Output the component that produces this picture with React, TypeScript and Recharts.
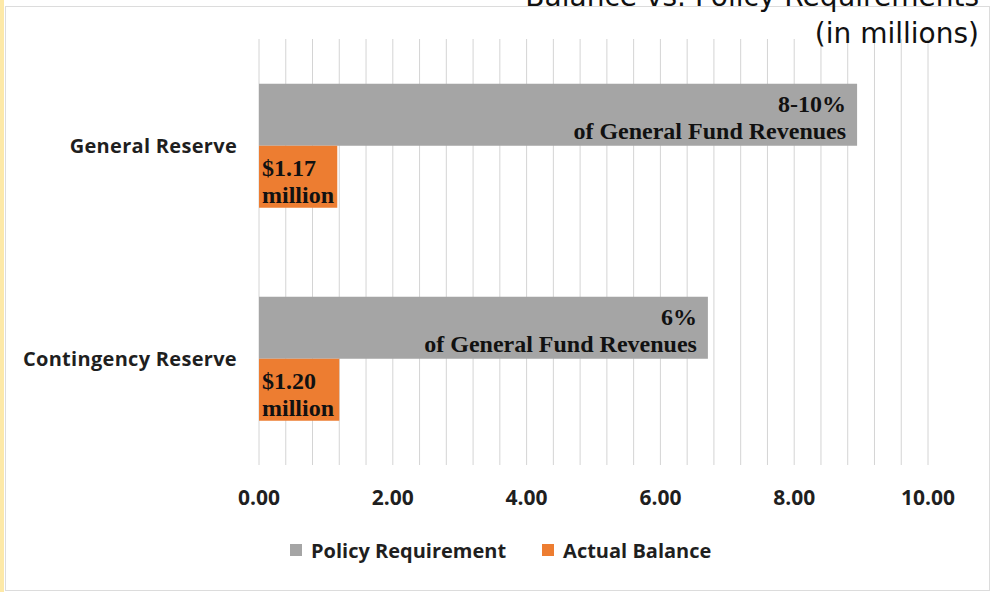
import React from 'react';
import { BarChart, Bar, XAxis, YAxis, CartesianGrid, Legend, LabelList } from 'recharts';

const categories = ['General Reserve', 'Contingency Reserve'];
const policyRequirement = [8.94, 6.71];
const actualBalance = [1.17, 1.2];
const policyLabels = [
  ['8-10%', 'of General Fund Revenues'],
  ['6%', 'of General Fund Revenues'],
];
const balanceLabels = [
  ['$1.17', 'million'],
  ['$1.20', 'million'],
];
const xTicks = [0, 2, 4, 6, 8, 10];
const gridValues = [
  0, 0.4, 0.8, 1.2, 1.6, 2, 2.4, 2.8, 3.2, 3.6, 4, 4.4, 4.8, 5.2, 5.6, 6, 6.4, 6.8, 7.2, 7.6, 8, 8.4, 8.8, 9.2,
  9.6, 10,
];

const data = categories.map((name, i) => ({
  name,
  policy: policyRequirement[i],
  actual: actualBalance[i],
  idx: i,
}));

const GRAY = '#a5a5a5';
const ORANGE = '#ed7d31';
const TEXT = '#1f1f1f';
const sansBold = '"Open Sans", Lato, sans-serif';
const serif = '"Liberation Serif", serif';

// map grid values through the x axis scale
const gridX = ({ xAxis, offset }: any) => {
  if (xAxis && typeof xAxis.scale === 'function') {
    return gridValues.map((v) => xAxis.scale(v));
  }
  return gridValues.map((v) => offset.left + (v / 10) * offset.width);
};

const PolicyLabel = (props: any) => {
  const { x, y, width, index } = props;
  const lines = policyLabels[index];
  const right = x + width - 11;
  return (
    <g>
      <text x={right} y={y + 28} textAnchor="end" fontFamily={serif} fontWeight={700} fontSize={24} fill="#111">
        {lines[0]}
      </text>
      <text x={right} y={y + 55} textAnchor="end" fontFamily={serif} fontWeight={700} fontSize={24} fill="#111">
        {lines[1]}
      </text>
    </g>
  );
};

const BalanceLabel = (props: any) => {
  const { x, y, index } = props;
  const lines = balanceLabels[index];
  return (
    <g>
      <text x={x + 3} y={y + 30} textAnchor="start" fontFamily={serif} fontWeight={700} fontSize={24} fill="#111">
        {lines[0]}
      </text>
      <text x={x + 3} y={y + 57} textAnchor="start" fontFamily={serif} fontWeight={700} fontSize={24} fill="#111">
        {lines[1]}
      </text>
    </g>
  );
};

const LegendContent = () => (
  <div
    style={{
      display: 'flex',
      justifyContent: 'flex-start',
      alignItems: 'center',
      height: 60,
      paddingLeft: 290,
      fontFamily: sansBold,
      fontWeight: 700,
      fontSize: 20,
      color: TEXT,
    }}
  >
    <span style={{ width: 12, height: 12, background: GRAY, display: 'inline-block', marginRight: 9 }} />
    <span style={{ marginRight: 36 }}>Policy Requirement</span>
    <span style={{ width: 12, height: 12, background: ORANGE, display: 'inline-block', marginRight: 9 }} />
    <span>Actual Balance</span>
  </div>
);

export default function App() {
  return (
    <div style={{ position: 'absolute', left: 0, top: 0, width: 991, height: 592, background: '#fff', overflow: 'hidden' }}>
      <div style={{ position: 'absolute', left: 0, top: 0, width: 4, height: 592, background: '#fde9a8' }} />
      <div
        style={{
          position: 'absolute',
          left: 5,
          top: 6,
          width: 983,
          height: 583,
          border: '1px solid #dcdcdc',
        }}
      />
      <BarChart
        width={991}
        height={592}
        data={data}
        layout="vertical"
        margin={{ top: 39, right: 63, bottom: 12, left: 0 }}
        barGap={0}
        barCategoryGap="21%"
      >
        <CartesianGrid horizontal={false} stroke="#d4d4d4" verticalCoordinatesGenerator={gridX} />
        <XAxis
          type="number"
          domain={[0, 10]}
          ticks={xTicks}
          tickFormatter={(v: number) => v.toFixed(2)}
          axisLine={false}
          tickLine={false}
          tickSize={0}
          tickMargin={25}
          height={55}
          tick={{ fill: TEXT, fontFamily: sansBold, fontWeight: 700, fontSize: 21 }}
        />
        <YAxis
          type="category"
          dataKey="name"
          width={259}
          axisLine={false}
          tickLine={false}
          tickSize={0}
          tickMargin={22}
          tick={{ fill: TEXT, fontFamily: sansBold, fontWeight: 700, fontSize: 20, letterSpacing: 0.3 }}
        />
        <Legend verticalAlign="bottom" height={60} content={<LegendContent />} />
        <Bar dataKey="policy" name="Policy Requirement" fill={GRAY} isAnimationActive={false}>
          <LabelList dataKey="policy" content={<PolicyLabel />} />
        </Bar>
        <Bar dataKey="actual" name="Actual Balance" fill={ORANGE} isAnimationActive={false}>
          <LabelList dataKey="actual" content={<BalanceLabel />} />
        </Bar>
      </BarChart>
      <div
        style={{
          position: 'absolute',
          right: 12,
          top: -22,
          textAlign: 'right',
          fontFamily: '"DejaVu Sans", sans-serif',
          fontSize: 28,
          lineHeight: '37px',
          color: '#111',
        }}
      >
        Balance vs. Policy Requirements
        <br />
        (in millions)
      </div>
    </div>
  );
}
